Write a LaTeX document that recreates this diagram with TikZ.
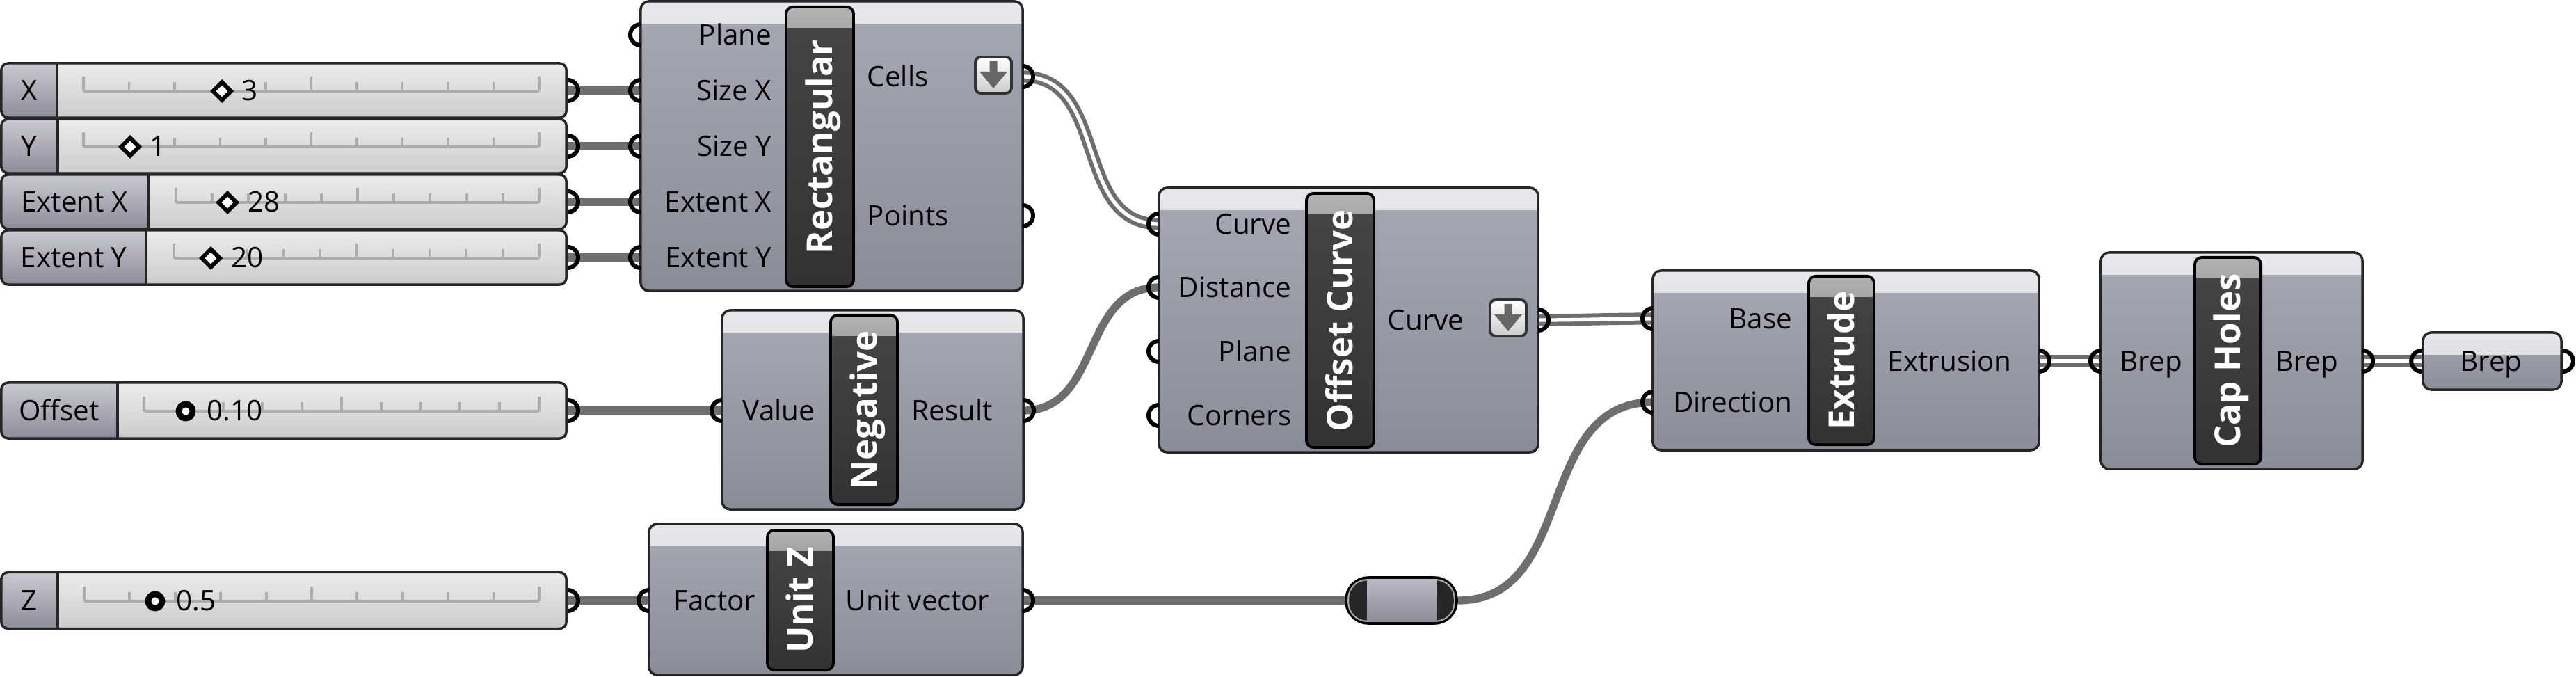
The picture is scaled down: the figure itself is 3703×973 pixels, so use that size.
\documentclass[tikz,border=0pt]{standalone}
\usepackage{fontspec}
\setmainfont{Open Sans}
\usetikzlibrary{positioning,shapes.geometric,backgrounds}

\definecolor{gbody}{RGB}{168,167,180}
\definecolor{gbodybot}{RGB}{140,139,152}
\definecolor{gheadtop}{RGB}{232,232,235}
\definecolor{ghead}{RGB}{208,208,213}
\definecolor{gtitle}{RGB}{70,70,70}
\definecolor{gtitlebot}{RGB}{50,50,50}
\definecolor{gwire}{RGB}{110,110,110}
\definecolor{gsltop}{RGB}{236,236,236}
\definecolor{gslbot}{RGB}{204,204,204}
\definecolor{gtrack}{RGB}{172,172,172}
\definecolor{gedge}{RGB}{38,38,38}

\newcommand{\lblfont}{\fontsize{11.5}{13}\selectfont}
\newcommand{\ttlfont}{\fontsize{14.5}{16}\selectfont\bfseries}

% ports: C shape on inputs, D shape on outputs
\newcommand{\inport}[1]{\draw[port] (#1) ++(0,-15) arc[start angle=90,end angle=270,radius=0.15cm];}
\newcommand{\outport}[1]{\draw[port] (#1) ++(0,-15) arc[start angle=90,end angle=-90,radius=0.15cm];}

% slider track with 10 divisions
\newcommand{\track}[3]{%
  \draw[sltrack] (#1,#3) -- (#2,#3);
  \foreach \i in {0,...,10}{
    \pgfmathsetmacro{\tx}{#1+(#2-#1)*\i/10}
    \pgfmathsetmacro{\th}{ifthenelse(mod(\i,5)==0,21,13)}
    \draw[sltick] (\tx,#3) -- (\tx,#3-\th);
  }}

\begin{document}
\begin{tikzpicture}[
    x=0.01cm, y=-0.01cm,
    comp/.style={draw=gedge,line width=1pt,rounded corners=0.12cm,
        top color=gbody,bottom color=gbodybot,inner sep=0,
        path picture={\shade[sharp corners,top color=gheadtop,bottom color=ghead]
            (path picture bounding box.north west)
            rectangle ([yshift=-0.32cm]path picture bounding box.north east);}},
    titlebar/.style={draw=black,line width=1.1pt,rounded corners=0.1cm,
        top color=gtitle,bottom color=gtitlebot,inner sep=0,
        path picture={\shade[sharp corners,top color=gray!60,bottom color=gtitle]
            (path picture bounding box.north west)
            rectangle ([yshift=-0.3cm]path picture bounding box.north east);}},
    comptitle/.style={font=\ttlfont,text=white,rotate=90,inner sep=0,
        text height=10.35pt,text depth=0pt},
    lbl/.style={font=\lblfont,inner sep=0,yshift=-0.145cm},
    slider/.style={draw=gedge,line width=1pt,rounded corners=0.1cm,
        top color=gsltop,bottom color=gslbot,inner sep=0,minimum width=8.12cm,
        path picture={
            \shade[sharp corners,top color=gbody!60!white,bottom color=gbodybot]
                (path picture bounding box.north west)
                rectangle ([xshift=#1]path picture bounding box.south west);
            \draw[gedge,line width=1pt]
                ([xshift=#1]path picture bounding box.north west)
                -- ([xshift=#1]path picture bounding box.south west);}},
    sltrack/.style={draw=gtrack,line width=1.3pt},
    sltick/.style={draw=gtrack,line width=1.1pt},
    dmark/.style={diamond,draw=black,fill=white,line width=1.7pt,
        minimum size=0.28cm,inner sep=0},
    cmark/.style={circle,draw=black,fill=white,line width=2.5pt,
        minimum size=0.2cm,inner sep=0},
    port/.style={draw=black,line width=1.7pt},
    flat/.style={draw=black!80,line width=1.1pt,rounded corners=0.08cm,
        top color=white,bottom color=gray!40,minimum size=0.52cm,inner sep=0},
    flatarrow/.style={fill=black!60},
    relay/.style={draw=black,line width=1pt,fill=black!85,rounded corners=0.32cm,
        minimum width=1.59cm,minimum height=0.66cm,inner sep=0},
    wire/.style={draw=gwire,line width=3.2pt},
    listwire/.style={draw=gwire,line width=1.7pt,double=white,double distance=1.5pt},
]

\useasboundingbox (0,0) rectangle (3703,973);

%----------------------------------
% Sliders
%----------------------------------

\node[slider=0.80cm,minimum height=0.78cm] (sX) at (408,130) {};
\node[lbl,anchor=base] at (42,130) {X};
\track{120}{775}{131}
\node[dmark] at (319,131) {};
\node[lbl,anchor=base west] at (347,130) {3};

\node[slider=0.81cm,minimum height=0.78cm] (sY) at (408,210) {};
\node[lbl,anchor=base] at (42,210) {Y};
\track{120}{775}{211}
\node[dmark] at (187,211) {};
\node[lbl,anchor=base west] at (215,210) {1};

\node[slider=2.11cm,minimum height=0.78cm] (sEX) at (408,290) {};
\node[lbl,anchor=base] at (107,290) {Extent X};
\track{253}{775}{291}
\node[dmark] at (327,291) {};
\node[lbl,anchor=base west] at (356,290) {28};

\node[slider=2.08cm,minimum height=0.78cm] (sEY) at (408,370) {};
\node[lbl,anchor=base] at (106,370) {Extent Y};
\track{250}{775}{371}
\node[dmark] at (303,371) {};
\node[lbl,anchor=base west] at (332,370) {20};

\node[slider=1.67cm,minimum height=0.80cm] (sOff) at (408,590) {};
\node[lbl,anchor=base] at (85,590) {Offset};
\track{207}{775}{591}
\node[cmark] at (267,591) {};
\node[lbl,anchor=base west] at (297,590) {0.10};

\node[slider=0.81cm,minimum height=0.81cm] (sZ) at (408,863) {};
\node[lbl,anchor=base] at (42,863) {Z};
\track{121}{775}{864}
\node[cmark] at (223,864) {};
\node[lbl,anchor=base west] at (253,863) {0.5};

\outport{sX.east}
\outport{sY.east}
\outport{sEX.east}
\outport{sEY.east}
\outport{sOff.east}
\outport{sZ.east}

%----------------------------------
% Rectangular
%----------------------------------

\node[comp,minimum width=5.49cm,minimum height=4.16cm] (rect) at (1195.5,210) {};
\node[titlebar,minimum width=0.97cm,minimum height=4.02cm] (rectT) at (1178.5,211) {};
\node[comptitle] at (rectT) {Rectangular};

\node[lbl,anchor=base east] at (1110,50) {Plane};
\node[lbl,anchor=base east] at (1110,130) {Size X};
\node[lbl,anchor=base east] at (1110,210) {Size Y};
\node[lbl,anchor=base east] at (1110,290) {Extent X};
\node[lbl,anchor=base east] at (1110,370) {Extent Y};
\node[lbl,anchor=base west] at (1246,110) {Cells};
\node[lbl,anchor=base west] at (1246,310) {Points};

\node[flat] (rectF) at (1428,108) {};
\fill[flatarrow] (rectF.center) ++(-5.5,-20) -- ++(11,0) -- ++(0,15)
    -- ++(14.5,0) -- ++(-20,24) -- ++(-20,-24) -- ++(14.5,0) -- cycle;

\coordinate (rect-pl) at (921,50);
\coordinate (rect-sx) at (921,130);
\coordinate (rect-sy) at (921,210);
\coordinate (rect-ex) at (921,290);
\coordinate (rect-ey) at (921,370);
\coordinate (rect-cells) at (1470,110);
\coordinate (rect-pts) at (1470,310);

\inport{rect-pl}
\inport{rect-sx}
\inport{rect-sy}
\inport{rect-ex}
\inport{rect-ey}
\outport{rect-cells}
\outport{rect-pts}

%----------------------------------
% Negative
%----------------------------------

\node[comp,minimum width=4.33cm,minimum height=2.86cm] (neg) at (1254.5,589) {};
\node[titlebar,minimum width=0.96cm,minimum height=2.72cm] (negT) at (1242,589) {};
\node[comptitle] at (negT) {Negative};

\node[lbl,anchor=base east] at (1172,590) {Value};
\node[lbl,anchor=base west] at (1310,590) {Result};

\coordinate (neg-val) at (1038,590);
\coordinate (neg-res) at (1471,590);

\inport{neg-val}
\outport{neg-res}

%----------------------------------
% Offset Curve
%----------------------------------

\node[comp,minimum width=5.45cm,minimum height=3.80cm] (off) at (1938.5,460) {};
\node[titlebar,minimum width=0.97cm,minimum height=3.65cm] (offT) at (1926.5,460.5) {};
\node[comptitle] at (offT) {Offset Curve};

\node[lbl,anchor=base east] at (1857,322) {Curve};
\node[lbl,anchor=base east] at (1857,413) {Distance};
\node[lbl,anchor=base east] at (1857,505) {Plane};
\node[lbl,anchor=base east] at (1857,597) {Corners};
\node[lbl,anchor=base west] at (1994,460) {Curve};

\node[flat] (offF) at (2168,457) {};
\fill[flatarrow] (offF.center) ++(-5.5,-20) -- ++(11,0) -- ++(0,15)
    -- ++(14.5,0) -- ++(-20,24) -- ++(-20,-24) -- ++(14.5,0) -- cycle;

\coordinate (off-crv) at (1666,322);
\coordinate (off-dist) at (1666,413);
\coordinate (off-pl) at (1666,505);
\coordinate (off-cor) at (1666,597);
\coordinate (off-out) at (2211,460);

\inport{off-crv}
\inport{off-dist}
\inport{off-pl}
\inport{off-cor}
\outport{off-out}

%----------------------------------
% Unit Z and relay
%----------------------------------

\node[comp,minimum width=5.37cm,minimum height=2.17cm] (unz) at (1201.5,861.5) {};
\node[titlebar,minimum width=0.95cm,minimum height=2.01cm] (unzT) at (1150.5,862.5) {};
\node[comptitle] at (unzT) {Unit Z};

\node[lbl,anchor=base east] at (1087,863) {Factor};
\node[lbl,anchor=base west] at (1215,863) {Unit vector};

\coordinate (unz-fac) at (933,863);
\coordinate (unz-out) at (1470,863);

\inport{unz-fac}
\outport{unz-out}

\node[relay] (relay) at (2014.5,863) {};
\draw[gray!70,line width=0.6pt,rounded corners=0.27cm]
    ([shift={(5,5)}]relay.north west) rectangle ([shift={(-5,-5)}]relay.south east);
\shade[top color=gbody!80!white,bottom color=gbodybot]
    ([shift={(32,4)}]relay.north west) rectangle ([shift={(-31,-4)}]relay.south east);

%----------------------------------
% Extrude
%----------------------------------

\node[comp,minimum width=5.55cm,minimum height=2.58cm] (ext) at (2653.5,518) {};
\node[titlebar,minimum width=0.94cm,minimum height=2.42cm] (extT) at (2647,518) {};
\node[comptitle] at (extT) {Extrude};

\node[lbl,anchor=base east] at (2577,458) {Base};
\node[lbl,anchor=base east] at (2577,578) {Direction};
\node[lbl,anchor=base west] at (2713,519) {Extrusion};

\coordinate (ext-base) at (2376,458);
\coordinate (ext-dir) at (2376,578);
\coordinate (ext-out) at (2931,519);

\inport{ext-base}
\inport{ext-dir}
\outport{ext-out}

%----------------------------------
% Cap Holes and Brep
%----------------------------------

\node[comp,minimum width=3.76cm,minimum height=3.11cm] (cap) at (3208,518.5) {};
\node[titlebar,minimum width=0.95cm,minimum height=2.97cm] (capT) at (3202.5,518.5) {};
\node[comptitle] at (capT) {Cap Holes};

\node[lbl,anchor=base west] at (3047,519) {Brep};
\node[lbl,anchor=base west] at (3271,519) {Brep};

\coordinate (cap-in) at (3020,519);
\coordinate (cap-out) at (3396,519);

\inport{cap-in}
\outport{cap-out}

\node[comp,minimum width=1.99cm,minimum height=0.82cm] (brep) at (3582.5,519) {};
\node[lbl,anchor=base] at (3581,519) {Brep};

\inport{brep.west}
\outport{brep.east}

%----------------------------------
% Wires
%----------------------------------

\begin{scope}[on background layer]

\draw[wire] (sX.east) -- (rect-sx);
\draw[wire] (sY.east) -- (rect-sy);
\draw[wire] (sEX.east) -- (rect-ex);
\draw[wire] (sEY.east) -- (rect-ey);

\draw[listwire]
    (rect-cells)
    to[out=0,in=180,looseness=1.1]
    (off-crv);

\draw[wire] (sOff.east) -- (neg-val);

\draw[wire]
    (neg-res)
    to[out=0,in=180,looseness=1.1]
    (off-dist);

\draw[wire] (sZ.east) -- (unz-fac);
\draw[wire] (unz-out) -- (relay.west);

\draw[wire]
    (relay.east)
    to[out=0,in=180,looseness=1.1]
    (ext-dir);

\draw[listwire]
    (off-out)
    to[out=0,in=180]
    (ext-base);

\draw[listwire] (ext-out) -- (cap-in);
\draw[listwire] (cap-out) -- (brep.west);

\end{scope}

\end{tikzpicture}
\end{document}
